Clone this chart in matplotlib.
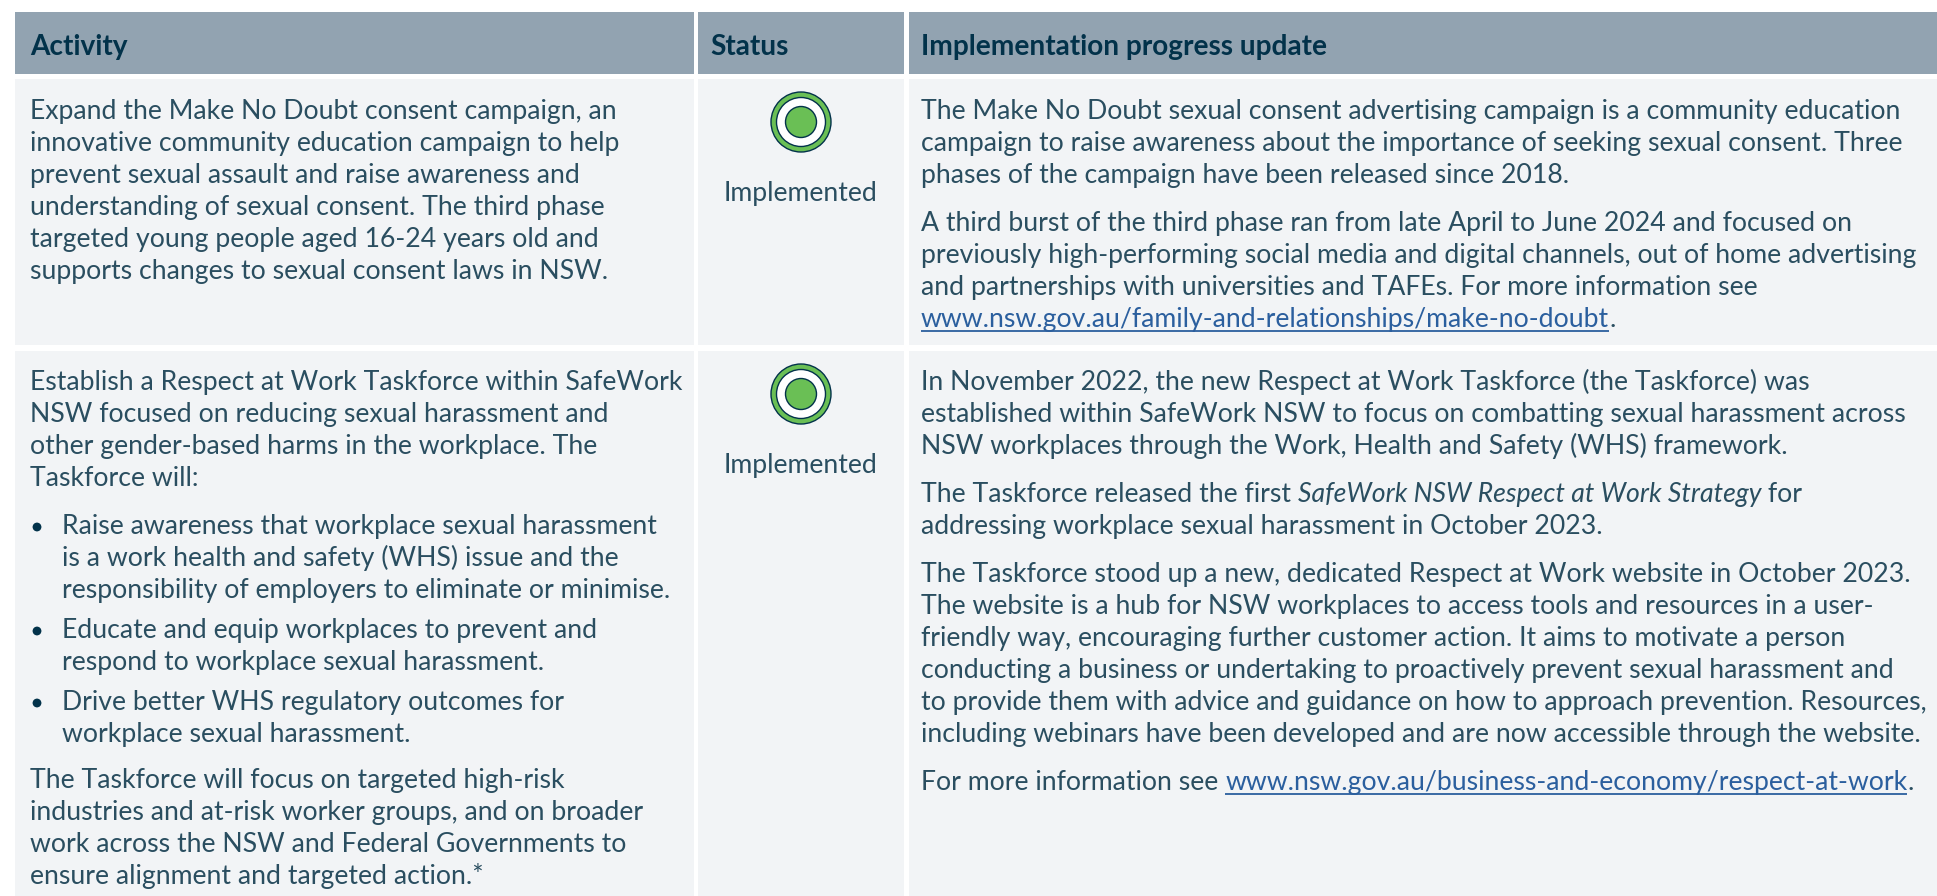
#!/usr/bin/env python3
# coding: utf-8

import matplotlib
matplotlib.use("Agg")
import matplotlib.pyplot as plt
from matplotlib.patches import Circle, Rectangle

W, H = 1937, 896
FONT = "Lato"
FS = 19.2
WEIGHT = "normal"
TEXT = "#2a4e60"
HEAD = "#02324a"
LINK = "#2b5f9e"
HEAD_BG = "#92a3b1"
CELL_BG = "#f2f4f6"
GREEN = "#6abf55"

headers = ["Activity", "Status", "Implementation progress update"]
status = "Implemented"

# lists of paragraphs, a paragraph is a list of lines
activity_1 = [[
    "Expand the Make No Doubt consent campaign, an",
    "innovative community education campaign to help",
    "prevent sexual assault and raise awareness and",
    "understanding of sexual consent. The third phase",
    "targeted young people aged 16-24 years old and",
    "supports changes to sexual consent laws in NSW.",
]]
update_1 = [[
    "The Make No Doubt sexual consent advertising campaign is a community education",
    "campaign to raise awareness about the importance of seeking sexual consent. Three",
    "phases of the campaign have been released since 2018.",
], [
    "A third burst of the third phase ran from late April to June 2024 and focused on",
    "previously high-performing social media and digital channels, out of home advertising",
    "and partnerships with universities and TAFEs. For more information see",
    [("www.nsw.gov.au/family-and-relationships/make-no-doubt", "link"), (".", "")],
]]
activity_2 = [[
    "Establish a Respect at Work Taskforce within SafeWork",
    "NSW focused on reducing sexual harassment and",
    "other gender-based harms in the workplace. The",
    "Taskforce will:",
]]
bullets_2 = [[
    "Raise awareness that workplace sexual harassment",
    "is a work health and safety (WHS) issue and the",
    "responsibility of employers to eliminate or minimise.",
], [
    "Educate and equip workplaces to prevent and",
    "respond to workplace sexual harassment.",
], [
    "Drive better WHS regulatory outcomes for",
    "workplace sexual harassment.",
]]
closing_2 = [[
    "The Taskforce will focus on targeted high-risk",
    "industries and at-risk worker groups, and on broader",
    "work across the NSW and Federal Governments to",
    "ensure alignment and targeted action.*",
]]
update_2 = [[
    "In November 2022, the new Respect at Work Taskforce (the Taskforce) was",
    "established within SafeWork NSW to focus on combatting sexual harassment across",
    "NSW workplaces through the Work, Health and Safety (WHS) framework.",
], [
    [("The Taskforce released the first ", ""),
     ("SafeWork NSW Respect at Work Strategy", "italic"), (" for", "")],
    "addressing workplace sexual harassment in October 2023.",
], [
    "The Taskforce stood up a new, dedicated Respect at Work website in October 2023.",
    "The website is a hub for NSW workplaces to access tools and resources in a user-",
    "friendly way, encouraging further customer action. It aims to motivate a person",
    "conducting a business or undertaking to proactively prevent sexual harassment and",
    "to provide them with advice and guidance on how to approach prevention. Resources,",
    "including webinars have been developed and are now accessible through the website.",
], [
    [("For more information see ", ""),
     ("www.nsw.gov.au/business-and-economy/respect-at-work", "link"), (".", "")],
]]

LINE = 32
GAP = 48
BULLET_GAP = 40

fig = plt.figure(figsize=(W / 100, H / 100), dpi=100)
ax = fig.add_axes([0, 0, 1, 1])
ax.set_xlim(0, W)
ax.set_ylim(H, 0)
ax.axis("off")


def box(x0, x1, y0, y1, color):
    ax.add_patch(Rectangle((x0, y0), x1 - x0, y1 - y0, fc=color, ec="none"))


def draw_line(x, y, line):
    if isinstance(line, str):
        line = [(line, "")]
    rend = fig.canvas.get_renderer()
    for txt, kind in line:
        style = "italic" if kind == "italic" else "normal"
        font = dict(family=FONT, fontsize=FS, style=style, weight=WEIGHT)
        ax.text(x, y, txt, va="baseline", color=LINK if kind == "link" else TEXT, **font)
        # trailing spaces are not always measured, so measure with a stop char
        probe = ax.text(x, y, txt + "|", **font)
        bar = ax.text(x, y, "|", **font)
        wid = probe.get_window_extent(rend).width - bar.get_window_extent(rend).width
        probe.remove()
        bar.remove()
        if kind == "link":
            ax.plot([x, x + wid], [y + 4, y + 4], color=LINK, lw=1.3, solid_capstyle="butt")
        x += wid


def draw_paras(x, y, paras, bullet=False):
    for i, para in enumerate(paras):
        if i:
            y += (BULLET_GAP if bullet else GAP) - LINE
        if bullet:
            ax.add_patch(Circle((37, y - 7), 4.4, fc=HEAD, ec="none"))
        for line in para:
            draw_line(x, y, line)
            y += LINE
    return y


def marker(y):
    ax.add_patch(Circle((801, y), 30, fc=GREEN, ec=HEAD, lw=1))
    ax.add_patch(Circle((801, y), 24.5, fc="white", ec=HEAD, lw=1))
    ax.add_patch(Circle((801, y), 15.5, fc=GREEN, ec=HEAD, lw=1))


cols = [(15, 694), (698, 904), (909, W)]
text_x = [30, 710, 921]
for (x0, x1), tx, head in zip(cols, text_x, headers):
    box(x0, x1, 12, 74, HEAD_BG)
    box(x0, x1, 79, 345, CELL_BG)
    box(x0, x1, 351, H, CELL_BG)
    ax.text(tx, 55, head, family=FONT, fontsize=FS + 1, fontweight="bold", color=HEAD, va="baseline")

draw_paras(text_x[0], 119, activity_1)
draw_paras(text_x[2], 119, update_1)
draw_paras(text_x[0], 390, activity_2)
draw_paras(62, 534, bullets_2, bullet=True)
draw_paras(text_x[0], 788, closing_2)
draw_paras(text_x[2], 390, update_2)

for cy, by in [(122, 201), (394, 473)]:
    marker(cy)
    ax.text(801, by, status, family=FONT, fontsize=FS, weight=WEIGHT, color=TEXT, ha="center", va="baseline")

fig.savefig("out.png", dpi=100)
